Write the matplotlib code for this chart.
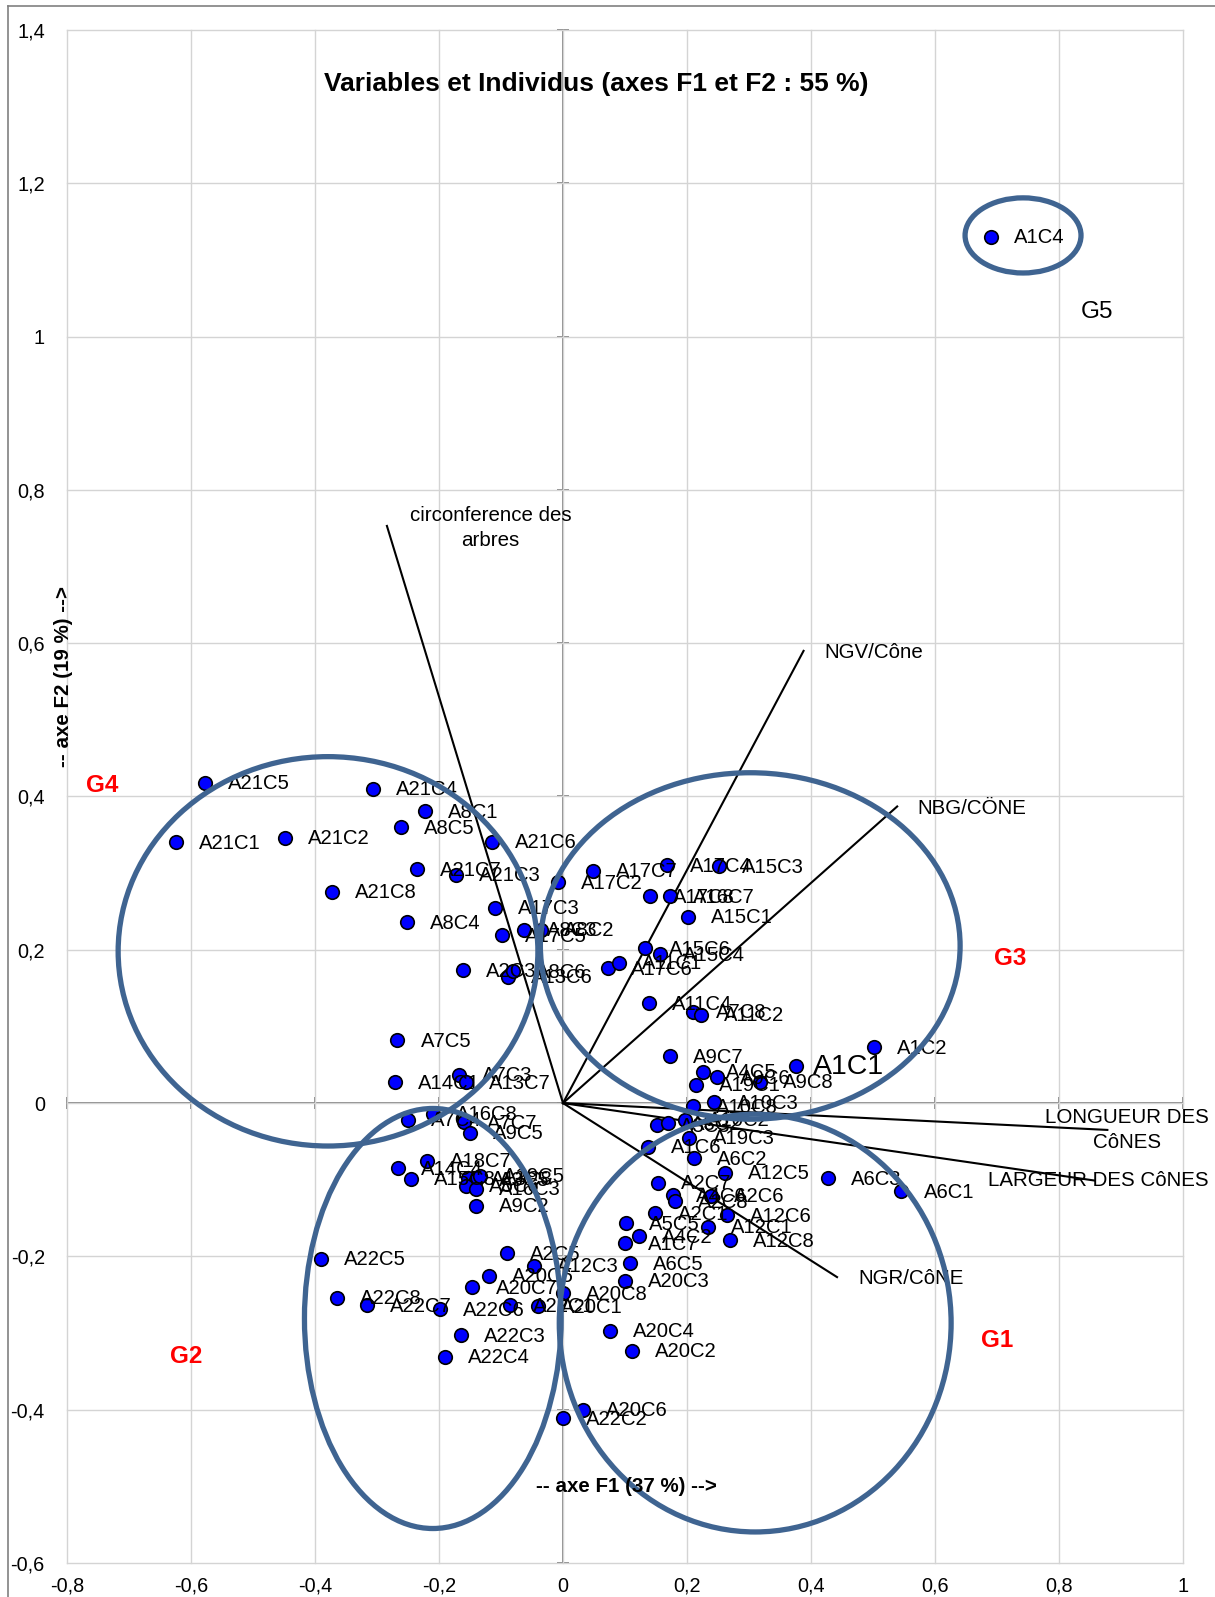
import matplotlib
matplotlib.use("Agg")
import matplotlib.pyplot as plt
from matplotlib.patches import Ellipse
from matplotlib.lines import Line2D

plt.rcParams['font.family'] = ['Liberation Sans', 'DejaVu Sans']

# ---------------- data ----------------
obs_names = ["A21C5", "A21C4", "A8C1", "A8C5", "A21C1", "A21C2", "A21C6", "A21C7", "A21C3",
             "A17C2", "A17C7", "A17C4", "A15C3", "A17C8", "A16C7", "A15C1", "A21C8", "A8C4",
             "A17C3", "A17C5", "A8C3", "A8C2", "A15C6", "A15C4", "A17C6", "A11C1", "A2C3",
             "A13C6", "A8C6", "A11C4", "A7C8", "A11C2", "A9C7", "A1C1", "A1C2", "A4C5", "A9C6",
             "A19C1", "A9C8", "A10C8", "A10C3", "A3C3", "A3C2", "A10C2", "A19C3", "A1C6",
             "A6C2", "A12C5", "A6C3", "A6C1", "A2C7", "A4C6", "A2C8", "A2C6", "A12C6", "A2C1",
             "A12C1", "A5C5", "A4C2", "A1C7", "A12C8", "A6C5", "A20C3", "A20C4", "A20C2",
             "A20C6", "A22C2", "A20C8", "A20C1", "A22C1", "A22C6", "A20C7", "A20C5", "A12C3",
             "A2C5", "A22C5", "A22C8", "A22C7", "A22C3", "A22C4", "A9C2", "A14C4", "A15C8",
             "A18C7", "A13C8", "A3C5", "A19C5", "A5C6", "A16C3", "A7C4", "A16C8", "A7C7",
             "A9C5", "A7C5", "A14C1", "A7C3", "A13C7", "A1C4"]
obs_f1 = [-0.578, -0.307, -0.223, -0.261, -0.624, -0.449, -0.115, -0.236, -0.172,
          -0.008, 0.048, 0.168, 0.252, 0.141, 0.172, 0.202, -0.372, -0.251,
          -0.110, -0.098, -0.063, -0.036, 0.133, 0.156, 0.073, 0.090, -0.161,
          -0.089, -0.081, 0.138, 0.210, 0.222, 0.172, 0.375, 0.502, 0.225, 0.248,
          0.215, 0.317, 0.210, 0.243, 0.151, 0.169, 0.196, 0.204, 0.137,
          0.212, 0.261, 0.427, 0.545, 0.153, 0.177, 0.180, 0.239, 0.264, 0.148,
          0.234, 0.102, 0.123, 0.100, 0.270, 0.108, 0.100, 0.075, 0.112,
          0.032, 0.000, 0.000, -0.040, -0.086, -0.199, -0.146, -0.120, -0.047,
          -0.090, -0.391, -0.364, -0.316, -0.164, -0.190, -0.141, -0.266, -0.245,
          -0.219, -0.153, -0.140, -0.134, -0.156, -0.140, -0.250, -0.210, -0.159,
          -0.150, -0.267, -0.271, -0.168, -0.157, 0.691]
obs_f2 = [0.418, 0.410, 0.381, 0.360, 0.340, 0.346, 0.341, 0.305, 0.298,
          0.288, 0.303, 0.310, 0.309, 0.270, 0.270, 0.243, 0.276, 0.236,
          0.255, 0.219, 0.226, 0.226, 0.202, 0.194, 0.176, 0.183, 0.173,
          0.165, 0.172, 0.130, 0.119, 0.115, 0.061, 0.049, 0.073, 0.041, 0.034,
          0.024, 0.028, -0.004, 0.001, -0.029, -0.026, -0.022, -0.045, -0.057,
          -0.072, -0.091, -0.098, -0.115, -0.104, -0.120, -0.128, -0.121, -0.146, -0.144,
          -0.161, -0.157, -0.174, -0.183, -0.179, -0.209, -0.232, -0.297, -0.323,
          -0.400, -0.411, -0.248, -0.265, -0.264, -0.269, -0.240, -0.225, -0.212,
          -0.196, -0.203, -0.254, -0.264, -0.303, -0.331, -0.134, -0.085, -0.099,
          -0.075, -0.098, -0.100, -0.095, -0.108, -0.112, -0.022, -0.014, -0.025,
          -0.039, 0.082, 0.027, 0.037, 0.027, 1.130]

var_names = ["circonference des\narbres", "NGV/Cône", "NBG/CÖNE",
             "LONGUEUR DES\nCôNES", "LARGEUR DES CôNES", "NGR/CôNE"]
var_f1 = [-0.284, 0.388, 0.539, 0.878, 0.857, 0.442]
var_f2 = [0.753, 0.590, 0.387, -0.035, -0.101, -0.227]

group_names = ["G1", "G2", "G3", "G4", "G5"]
group_cx = [0.310, -0.210, 0.302, -0.379, 0.742]
group_cy = [-0.287, -0.281, 0.205, 0.198, 1.132]
group_w = [0.632, 0.414, 0.677, 0.677, 0.187]
group_h = [0.545, 0.548, 0.452, 0.508, 0.098]
group_lx = [0.701, -0.608, 0.722, -0.744, 0.862]
group_ly = [-0.310, -0.330, 0.188, 0.414, 1.032]

xticks = [-0.8, -0.6, -0.4, -0.2, 0, 0.2, 0.4, 0.6, 0.8, 1.0]
yticks = [-0.6, -0.4, -0.2, 0, 0.2, 0.4, 0.6, 0.8, 1.0, 1.2, 1.4]


def fmt(v):
    s = ("%.1f" % v).rstrip('0').rstrip('.')
    if s in ("-0", ""):
        s = "0"
    return s.replace('.', ',')


# ---------------- figure ----------------
fig = plt.figure(figsize=(12.15, 15.97), dpi=100)
ax = fig.add_axes([67 / 1215, 1 - 1563 / 1597, (1183 - 67) / 1215, (1563 - 30) / 1597])
ax.set_xlim(-0.8, 1.0)
ax.set_ylim(-0.6, 1.4)
for sp in ax.spines.values():
    sp.set_visible(False)

ax.set_xticks(xticks)
ax.set_xticklabels([fmt(v) for v in xticks])
ax.set_yticks(yticks)
ax.set_yticklabels([fmt(v) for v in yticks])
ax.tick_params(axis='both', length=0, labelsize=14.3, colors='black')
ax.tick_params(axis='x', pad=10)
ax.tick_params(axis='y', pad=16)
ax.grid(True, color='#d4d4d4', linewidth=1.0, zorder=0)
for gl in ax.get_xgridlines() + ax.get_ygridlines():
    gl.set_clip_on(False)

# axes through origin
ax.axhline(0, color='#7f7f7f', lw=1.3, zorder=1)
ax.axvline(0, color='#7f7f7f', lw=1.3, zorder=1)
ax.plot(xticks, [0] * len(xticks), ls='none', marker='|', ms=8, mew=1.3, color='#7f7f7f', zorder=1, clip_on=False)
ax.plot([0] * len(yticks), yticks, ls='none', marker='_', ms=8, mew=1.3, color='#7f7f7f', zorder=1, clip_on=False)

# variable vectors
for name, vx, vy in zip(var_names, var_f1, var_f2):
    ax.plot([0, vx], [0, vy], color='black', lw=1.5, zorder=2)

var_lab_pos = [(-0.117, 0.750, 'center'), (0.422, 0.588, 'left'), (0.571, 0.384, 'left'),
               (0.910, -0.035, 'center'), (0.685, -0.101, 'left'), (0.476, -0.229, 'left')]
for name, (lx, ly, ha) in zip(var_names, var_lab_pos):
    ax.text(lx, ly, name, fontsize=14.8, ha=ha, va='center', multialignment='center',
            linespacing=1.4, zorder=5, clip_on=False)

# observations
ax.scatter(obs_f1, obs_f2, s=95, color='#0000ff', edgecolors='black', linewidths=1.2, zorder=4)
for name, x, y in zip(obs_names, obs_f1, obs_f2):
    big = (name == "A1C1")
    ax.annotate(name, (x, y), xytext=(17 if big else 23, -1), textcoords='offset pixels',
                fontsize=20.5 if big else 14.6, ha='left', va='center', zorder=5)

# group ellipses
for gname, cx, cy, w, h in zip(group_names, group_cx, group_cy, group_w, group_h):
    ax.add_patch(Ellipse((cx, cy), w, h, fill=False, edgecolor='#3f6491', lw=3.8, zorder=6))
for gname, lx, ly in zip(group_names, group_lx, group_ly):
    if gname == "G5":
        ax.text(lx, ly, gname, fontsize=17.5, color='black', ha='center', va='center', zorder=7)
    else:
        ax.text(lx, ly, gname, fontsize=17.5, color='#ff0000', fontweight='bold',
                ha='center', va='center', zorder=7)

# titles / axis labels
ax.text(0.053, 1.330, "Variables et Individus (axes F1 et F2 : 55 %)", fontsize=19,
        fontweight='bold', ha='center', va='center', zorder=7)
ax.text(0.102, -0.500, "-- axe F1 (37 %) -->", fontsize=14.8, fontweight='bold',
        ha='center', va='center', zorder=7)
ax.text(-0.806, 0.557, "-- axe F2 (19 %) -->", fontsize=14.8, fontweight='bold', rotation=90,
        ha='center', va='center', zorder=7, clip_on=False)

# outer chart border (left and top)
fig.add_artist(Line2D([8 / 1215, 8 / 1215], [0, 1 - 6 / 1597], transform=fig.transFigure,
                      color='#808080', lw=1.2))
fig.add_artist(Line2D([8 / 1215, 1], [1 - 6 / 1597, 1 - 6 / 1597], transform=fig.transFigure,
                      color='#808080', lw=1.2))

fig.savefig("out.png", dpi=100)
